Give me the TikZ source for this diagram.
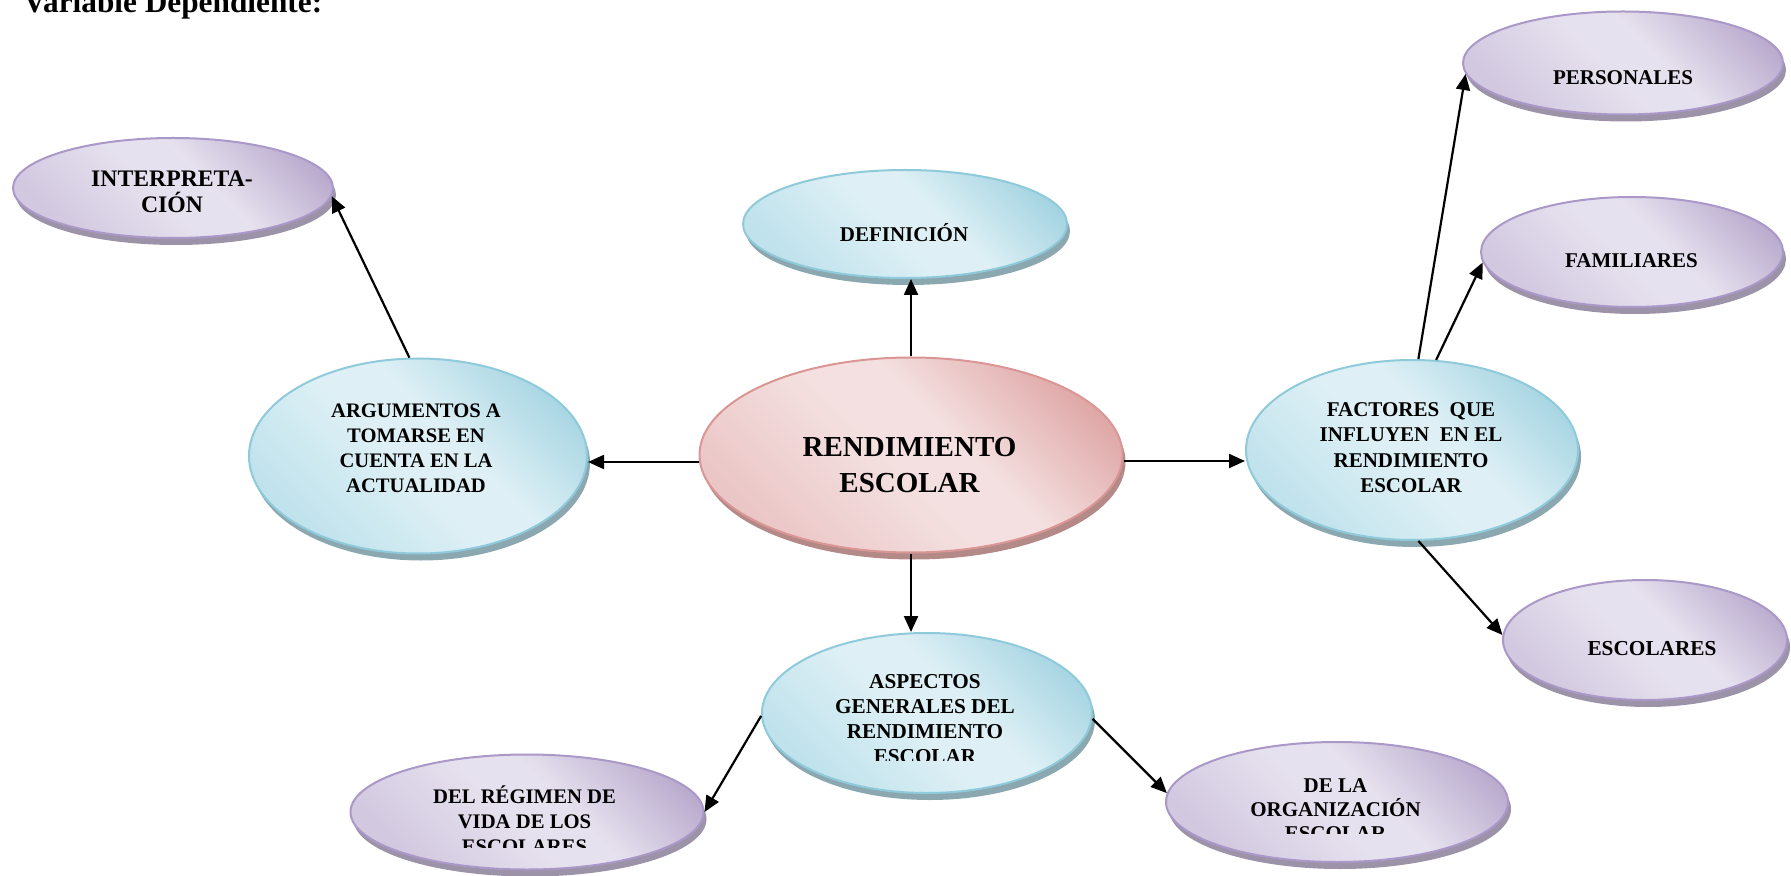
\documentclass[tikz,border=0pt]{standalone}
\usepackage{fontspec}
\setmainfont{Liberation Serif}
\usetikzlibrary{shapes.geometric,shadows,arrows.meta,calc}
\definecolor{pinkL}{HTML}{F4E0E0}
\definecolor{pinkM}{HTML}{EBC6C6}
\definecolor{pinkD}{HTML}{DDA3A2}
\definecolor{pinkB}{HTML}{D99694}
\definecolor{pinkS}{HTML}{B48A89}
\definecolor{blueL}{HTML}{DEF0F5}
\definecolor{blueM}{HTML}{BFE2EC}
\definecolor{blueD}{HTML}{A3D3E1}
\definecolor{blueB}{HTML}{8FCADB}
\definecolor{blueS}{HTML}{8BA7B0}
\definecolor{purpL}{HTML}{E6E1EE}
\definecolor{purpM}{HTML}{D2C8E0}
\definecolor{purpD}{HTML}{B9AACD}
\definecolor{purpB}{HTML}{AA98C8}
\definecolor{purpS}{HTML}{9C93A8}
\pgfdeclarehorizontalshading{pinkshade}{100bp}{color(0bp)=(pinkM); color(25bp)=(pinkM); color(47bp)=(pinkL); color(57bp)=(pinkL); color(78bp)=(pinkD); color(100bp)=(pinkD)}
\pgfdeclarehorizontalshading{blueshade}{100bp}{color(0bp)=(blueM); color(25bp)=(blueM); color(47bp)=(blueL); color(57bp)=(blueL); color(78bp)=(blueD); color(100bp)=(blueD)}
\pgfdeclarehorizontalshading{purpshade}{100bp}{color(0bp)=(purpM); color(25bp)=(purpM); color(47bp)=(purpL); color(57bp)=(purpL); color(78bp)=(purpD); color(100bp)=(purpD)}
\newcommand\mtxt[3]{{\fontsize{#1}{#2}\selectfont\lineskiplimit=-1000pt\vtop{\halign{\hfil##\hfil\cr#3\crcr}}}}
\begin{document}
\begin{tikzpicture}[x=0.5pt,y=-0.5pt,
  ell/.style={ellipse, inner sep=0pt, line width=1pt, shading angle=45},
  pinkell/.style={ell, draw=pinkB, shading=pinkshade, drop shadow={shadow xshift=1.5pt, shadow yshift=-3.5pt, fill=pinkS, opacity=1, draw=none}},
  blueell/.style={ell, draw=blueB, shading=blueshade, drop shadow={shadow xshift=1.5pt, shadow yshift=-3.5pt, fill=blueS, opacity=1, draw=none}},
  purpell/.style={ell, draw=purpB, shading=purpshade, drop shadow={shadow xshift=1.5pt, shadow yshift=-3.5pt, fill=purpS, opacity=1, draw=none}},
  lbl/.style={inner sep=0pt, anchor=base, font=\bfseries},
  arr/.style={-{Triangle[length=8pt,width=7pt]}, line width=1.1pt}]
\useasboundingbox (0,0) rectangle (1791,876);
\node[anchor=base west, inner sep=0pt, font=\bfseries\fontsize{15.65}{18}\selectfont] (title) at (23,13) {Variable Dependiente:};
% ellipses
\node[pinkell, minimum width=211.5pt, minimum height=97.5pt] (main) at (911,455) {};
\node[blueell, minimum width=162pt, minimum height=54pt] (def) at (905,224) {};
\node[blueell, minimum width=169pt, minimum height=97.5pt] (arg) at (418,456) {};
\node[blueell, minimum width=166pt, minimum height=90pt] (fact) at (1412,450) {};
\node[blueell, minimum width=165pt, minimum height=80pt] (asp) at (927,713) {};
\node[purpell, minimum width=160pt, minimum height=50pt] (interp) at (173,188) {};
\node[purpell, minimum width=160pt, minimum height=51.5pt] (pers) at (1623,63) {};
\node[purpell, minimum width=151pt, minimum height=55pt] (fam) at (1632,252) {};
\node[purpell, minimum width=142pt, minimum height=60pt] (esc) at (1645,640) {};
\node[purpell, minimum width=176.5pt, minimum height=57.5pt] (reg) at (527,812) {};
\node[purpell, minimum width=171pt, minimum height=60pt] (org) at (1337,802) {};
% texts
\node[lbl] (tmain) at (909.5,457) {\mtxt{14.5}{17.5}{RENDIMIENTO\cr ESCOLAR}};
\node[lbl] (tdef) at (904,242) {\mtxt{10.5}{12.5}{DEFINICIÓN}};
\node[lbl] (targ) at (416,418) {\mtxt{10.3}{12.35}{ARGUMENTOS A\cr TOMARSE EN\cr CUENTA EN LA\cr ACTUALIDAD}};
\node[lbl] (tfact) at (1411,417) {\mtxt{10.5}{12.5}{FACTORES\ \ QUE\cr INFLUYEN\ \ EN EL\cr RENDIMIENTO\cr ESCOLAR}};
\node[lbl] (tinterp) at (172,187) {\mtxt{11.85}{13}{INTERPRETA-\cr CIÓN}};
\node[lbl] (tpers) at (1623,85) {\mtxt{10.5}{12.5}{PERSONALES}};
\node[lbl] (tfam) at (1631.5,268) {\mtxt{10.5}{12.5}{FAMILIARES}};
\node[lbl] (tesc) at (1652,655) {\mtxt{10.65}{12.5}{ESCOLARES}};
\begin{scope}
\clip (760,640) rectangle (1095,760);
\node[lbl] (tasp) at (925,688) {\mtxt{10.6}{12.5}{ASPECTOS\cr GENERALES DEL\cr RENDIMIENTO\cr ESCOLAR}};
\end{scope}
\begin{scope}
\clip (360,760) rectangle (700,847);
\node[lbl] (treg) at (524.5,803) {\mtxt{10.35}{12.5}{DEL RÉGIMEN DE\cr VIDA DE LOS\cr ESCOLARES}};
\end{scope}
\begin{scope}
\clip (1170,750) rectangle (1505,833);
\node[lbl] (torg) at (1335.5,792) {\mtxt{10.5}{12}{DE LA\cr ORGANIZACIÓN\cr ESCOLAR}};
\end{scope}
% connectors
\draw[arr] (main.north) -- (main.north |- def.south);
\draw[arr] ($(main.west)+(0,7)$) -- ($(arg.east)+(0,6)$);
\draw[arr] ($(main.east)+(0,6)$) -- ($(fact.west)+(0,11)$);
\draw[arr] (main.south) -- (main.south |- asp.north);
\draw[arr] (arg.95) -- (interp.-3);
\draw[arr] (fact.86) -- (pers.184);
\draw[arr] (fact.75) -- (fam.184);
\draw[arr] (fact.-86) -- (esc.178);
\draw[arr] (asp.181) -- (reg.east);
\draw[arr] (asp.-2) -- (org.177);
\end{tikzpicture}
\end{document}
